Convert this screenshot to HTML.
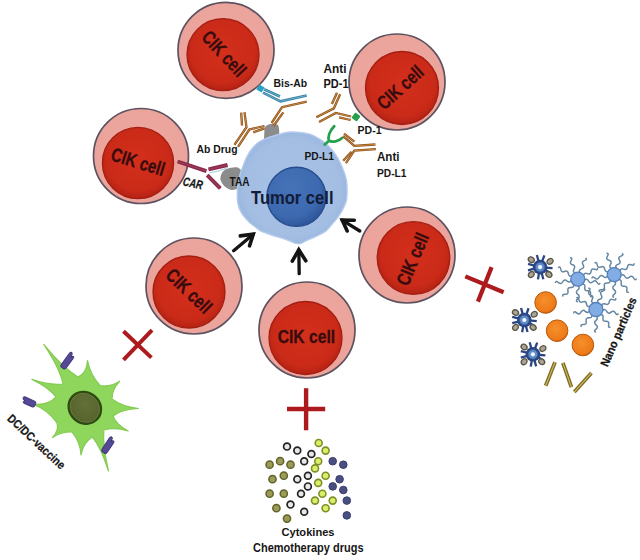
<!DOCTYPE html>
<html><head><meta charset="utf-8"><style>
html,body{margin:0;padding:0;background:#fff;width:640px;height:560px;overflow:hidden}
svg{display:block}
</style></head><body>
<svg width="640" height="560" viewBox="0 0 640 560">
<rect width="640" height="560" fill="#ffffff"/>
<defs>
<radialGradient id="gInner" cx="50%" cy="45%" r="55%">
 <stop offset="0" stop-color="#d3301c"/><stop offset="0.8" stop-color="#ca2a18"/><stop offset="1" stop-color="#b42214"/>
</radialGradient>
<radialGradient id="gOuter" cx="50%" cy="50%" r="50%">
 <stop offset="0" stop-color="#eea89f"/><stop offset="1" stop-color="#eba49b"/>
</radialGradient>
<radialGradient id="gNuc" cx="40%" cy="35%" r="65%">
 <stop offset="0" stop-color="#4672b8"/><stop offset="0.75" stop-color="#3d69b0"/><stop offset="1" stop-color="#30589c"/>
</radialGradient>
<radialGradient id="gTum" cx="50%" cy="50%" r="50%">
 <stop offset="0" stop-color="#a8c2e6"/><stop offset="0.85" stop-color="#a4bee3"/><stop offset="1" stop-color="#9cb8e0"/>
</radialGradient>
<radialGradient id="gDCn" cx="45%" cy="40%" r="60%">
 <stop offset="0" stop-color="#647038"/><stop offset="1" stop-color="#56642c"/>
</radialGradient>
<radialGradient id="gOr" cx="45%" cy="40%" r="60%">
 <stop offset="0" stop-color="#f5902a"/><stop offset="0.85" stop-color="#ee7a18"/><stop offset="1" stop-color="#c8600e"/>
</radialGradient>
</defs><circle cx="226" cy="50.3" r="48" fill="url(#gOuter)" stroke="#5e5260" stroke-width="1.7"/><circle cx="223" cy="54.6" r="36" fill="url(#gInner)" stroke="#a41e12" stroke-width="1.3"/><g transform="translate(223.75,53.45) rotate(47) scale(1,1.2)"><text x="0.3" y="5.5" text-anchor="middle" font-family="Liberation Sans" font-weight="bold" font-size="16" fill="#380c0e" stroke="#380c0e" stroke-width="0.25" textLength="55" lengthAdjust="spacingAndGlyphs">CIK cell</text></g><circle cx="397" cy="82" r="48" fill="url(#gOuter)" stroke="#5e5260" stroke-width="1.7"/><circle cx="402" cy="88" r="36.5" fill="url(#gInner)" stroke="#a41e12" stroke-width="1.3"/><g transform="translate(400.1,87.6) rotate(-42) scale(1,1.2)"><text x="0.3" y="5.5" text-anchor="middle" font-family="Liberation Sans" font-weight="bold" font-size="16" fill="#380c0e" stroke="#380c0e" stroke-width="0.25" textLength="55" lengthAdjust="spacingAndGlyphs">CIK cell</text></g><circle cx="141" cy="156" r="47.5" fill="url(#gOuter)" stroke="#5e5260" stroke-width="1.7"/><circle cx="138" cy="163" r="35.6" fill="url(#gInner)" stroke="#a41e12" stroke-width="1.3"/><g transform="translate(137.75,161.75) rotate(17) scale(1,1.2)"><text x="0.3" y="5.5" text-anchor="middle" font-family="Liberation Sans" font-weight="bold" font-size="16" fill="#380c0e" stroke="#380c0e" stroke-width="0.25" textLength="55" lengthAdjust="spacingAndGlyphs">CIK cell</text></g><circle cx="194" cy="286" r="48" fill="url(#gOuter)" stroke="#5e5260" stroke-width="1.7"/><circle cx="189" cy="292" r="36" fill="url(#gInner)" stroke="#a41e12" stroke-width="1.3"/><g transform="translate(188.75,290.75) rotate(44) scale(1,1.2)"><text x="0.3" y="5.5" text-anchor="middle" font-family="Liberation Sans" font-weight="bold" font-size="16" fill="#380c0e" stroke="#380c0e" stroke-width="0.25" textLength="55" lengthAdjust="spacingAndGlyphs">CIK cell</text></g><circle cx="307" cy="330" r="48" fill="url(#gOuter)" stroke="#5e5260" stroke-width="1.7"/><circle cx="305.5" cy="338" r="36.5" fill="url(#gInner)" stroke="#a41e12" stroke-width="1.3"/><g transform="translate(306.1,336.65) rotate(0) scale(1,1.2)"><text x="0.3" y="5.5" text-anchor="middle" font-family="Liberation Sans" font-weight="bold" font-size="16" fill="#380c0e" stroke="#380c0e" stroke-width="0.25" textLength="57.5" lengthAdjust="spacingAndGlyphs">CIK cell</text></g><circle cx="407" cy="255" r="48" fill="url(#gOuter)" stroke="#5e5260" stroke-width="1.7"/><circle cx="413.5" cy="258" r="36.3" fill="url(#gInner)" stroke="#a41e12" stroke-width="1.3"/><g transform="translate(412.45,259.35) rotate(-67) scale(1,1.2)"><text x="0.3" y="5.5" text-anchor="middle" font-family="Liberation Sans" font-weight="bold" font-size="16" fill="#380c0e" stroke="#380c0e" stroke-width="0.25" textLength="55" lengthAdjust="spacingAndGlyphs">CIK cell</text></g><path d="M264.5,128 C266,124 274,122.5 278,125 C279.5,128 279.5,134 278.5,139 L264,140 Z" fill="#8c8c8c"/><path d="M225,170.5 Q230,167.5 237,168 Q242,170.5 242.5,176 L241,186 Q236,190 230.5,189 Q223,186 221,179 Q221.5,173 225,170.5 Z" fill="#8c8c8c" stroke="#8c8c8c" stroke-width="1.5" stroke-linejoin="round"/><path d="M290,132 C286.4,132.2 284.5,132.9 280.6,134 C276.7,135.1 270.2,136.9 266.5,138.3 C262.8,139.7 260.9,140.6 258.5,142.3 C256.1,144.1 253.9,146.4 252,148.8 C250.1,151.2 248.2,154.3 246.8,157 C245.4,159.7 244.6,162.2 243.5,164.9 C242.4,167.6 241.4,170.0 240.5,173 C239.6,176.0 238.7,179.7 238.2,183 C237.7,186.3 237.3,189.5 237.3,193 C237.3,196.5 237.3,200.7 238,204 C238.7,207.3 239.7,210.0 241.5,213 C243.3,216.0 246.6,219.6 249,222 C251.4,224.4 254.1,226.0 256,227.5 C257.9,229.0 258.8,229.9 260.5,230.8 C262.2,231.7 263.9,232.2 266,233 C268.1,233.8 270.3,234.6 273,235.5 C275.7,236.4 279.2,237.3 282,238.2 C284.8,239.1 287.7,240.1 290,241 C292.3,241.9 294.2,243.0 296,243.4 C297.8,243.8 299.5,243.8 301,243.4 C302.5,243.1 303.4,242.1 305,241.3 C306.6,240.5 308.2,239.9 310.9,238.7 C313.6,237.5 318.4,235.4 321,234 C323.6,232.6 324.7,232.1 326.6,230.4 C328.5,228.7 330.3,226.2 332.2,224 C334.1,221.8 336.1,219.7 337.8,217.4 C339.5,215.1 340.9,212.9 342.4,210 C343.8,207.1 345.7,204.0 346.5,200 C347.3,196.0 347.1,189.6 347,186 C346.9,182.4 346.8,181.3 346,178.2 C345.2,175.1 343.6,170.7 342.2,167.3 C340.8,163.9 339.2,160.7 337.4,157.6 C335.6,154.5 333.3,151.4 331.3,149 C329.3,146.6 327.4,144.8 325.2,143 C323.0,141.2 320.3,139.5 317.9,138.1 C315.5,136.7 313.2,135.4 310.6,134.5 C308.0,133.6 305.5,133.1 302.1,132.7 C298.7,132.3 293.6,131.8 290,132Z" fill="url(#gTum)" stroke="#b4cbec" stroke-width="1.4"/><circle cx="296.4" cy="196.8" r="29.5" fill="url(#gNuc)" stroke="#264c8c" stroke-width="1.4"/><polyline points="244.5,112.2 246.5,127.1 234.4,144.8" fill="none" stroke="#8a4e14" stroke-width="2.3" stroke-linejoin="miter" stroke-linecap="butt"/><polyline points="244.5,112.2 246.5,127.1 234.4,144.8" fill="none" stroke="#dc9c58" stroke-width="0.75" stroke-linejoin="miter" stroke-linecap="butt"/><polyline points="238,146.8 249.3,129.5 264.5,126" fill="none" stroke="#8a4e14" stroke-width="2.3" stroke-linejoin="miter" stroke-linecap="butt"/><polyline points="238,146.8 249.3,129.5 264.5,126" fill="none" stroke="#dc9c58" stroke-width="0.75" stroke-linejoin="miter" stroke-linecap="butt"/><polyline points="241.2,112.6 242,125.5" fill="none" stroke="#8a4e14" stroke-width="2.3" stroke-linejoin="miter" stroke-linecap="butt"/><polyline points="241.2,112.6 242,125.5" fill="none" stroke="#dc9c58" stroke-width="0.75" stroke-linejoin="miter" stroke-linecap="butt"/><polyline points="253.3,132.3 264.5,128.3" fill="none" stroke="#8a4e14" stroke-width="2.3" stroke-linejoin="miter" stroke-linecap="butt"/><polyline points="253.3,132.3 264.5,128.3" fill="none" stroke="#dc9c58" stroke-width="0.75" stroke-linejoin="miter" stroke-linecap="butt"/><polyline points="306.7,101.6 282,107.2 271.6,123" fill="none" stroke="#8a4e14" stroke-width="2.3" stroke-linejoin="miter" stroke-linecap="butt"/><polyline points="306.7,101.6 282,107.2 271.6,123" fill="none" stroke="#dc9c58" stroke-width="0.75" stroke-linejoin="miter" stroke-linecap="butt"/><polyline points="283.3,112.3 273.4,126" fill="none" stroke="#8a4e14" stroke-width="2.3" stroke-linejoin="miter" stroke-linecap="butt"/><polyline points="283.3,112.3 273.4,126" fill="none" stroke="#dc9c58" stroke-width="0.75" stroke-linejoin="miter" stroke-linecap="butt"/><polyline points="263,92.7 280.5,101.3 306.7,95.5" fill="none" stroke="#307c9e" stroke-width="2.6" stroke-linejoin="miter" stroke-linecap="butt"/><polyline points="263,92.7 280.5,101.3 306.7,95.5" fill="none" stroke="#78c0dc" stroke-width="0.8" stroke-linejoin="miter" stroke-linecap="butt"/><polyline points="264,89.3 280,96.5" fill="none" stroke="#307c9e" stroke-width="2.6" stroke-linejoin="miter" stroke-linecap="butt"/><polyline points="264,89.3 280,96.5" fill="none" stroke="#78c0dc" stroke-width="0.8" stroke-linejoin="miter" stroke-linecap="butt"/><rect x="-3" y="-3" width="6" height="6" fill="#2aa0c8" transform="translate(260.5,88.5) rotate(30)"/><polyline points="340.1,94.25 333.9,108.3 316.3,117.3" fill="none" stroke="#8a4e14" stroke-width="2.3" stroke-linejoin="miter" stroke-linecap="butt"/><polyline points="340.1,94.25 333.9,108.3 316.3,117.3" fill="none" stroke="#dc9c58" stroke-width="0.75" stroke-linejoin="miter" stroke-linecap="butt"/><polyline points="319,122 335.8,113 351.1,116.5" fill="none" stroke="#8a4e14" stroke-width="2.3" stroke-linejoin="miter" stroke-linecap="butt"/><polyline points="319,122 335.8,113 351.1,116.5" fill="none" stroke="#dc9c58" stroke-width="0.75" stroke-linejoin="miter" stroke-linecap="butt"/><polyline points="337,92.7 331.9,104" fill="none" stroke="#8a4e14" stroke-width="2.3" stroke-linejoin="miter" stroke-linecap="butt"/><polyline points="337,92.7 331.9,104" fill="none" stroke="#dc9c58" stroke-width="0.75" stroke-linejoin="miter" stroke-linecap="butt"/><polyline points="339,117.3 350.7,120" fill="none" stroke="#8a4e14" stroke-width="2.3" stroke-linejoin="miter" stroke-linecap="butt"/><polyline points="339,117.3 350.7,120" fill="none" stroke="#dc9c58" stroke-width="0.75" stroke-linejoin="miter" stroke-linecap="butt"/><rect x="-3.3" y="-3.3" width="6.6" height="6.6" rx="1.2" fill="#26a04a" transform="translate(356,117) rotate(35)"/><path d="M334.2,126.2 C329.5,131 327.5,137 329,140.8 M342.2,137.9 C339,141.5 332,142.5 329,140.8 L324.8,144.5" fill="none" stroke="#24a04e" stroke-width="2.8" stroke-linecap="round"/><polyline points="343.1,136.1 354.3,145.9 375.4,144.5" fill="none" stroke="#8a4e14" stroke-width="2.3" stroke-linejoin="miter" stroke-linecap="butt"/><polyline points="343.1,136.1 354.3,145.9 375.4,144.5" fill="none" stroke="#dc9c58" stroke-width="0.75" stroke-linejoin="miter" stroke-linecap="butt"/><polyline points="375.9,149.2 354.3,150.6 345.9,163.2" fill="none" stroke="#8a4e14" stroke-width="2.3" stroke-linejoin="miter" stroke-linecap="butt"/><polyline points="375.9,149.2 354.3,150.6 345.9,163.2" fill="none" stroke="#dc9c58" stroke-width="0.75" stroke-linejoin="miter" stroke-linecap="butt"/><polyline points="344,133.6 354.3,141.6" fill="none" stroke="#8a4e14" stroke-width="2.3" stroke-linejoin="miter" stroke-linecap="butt"/><polyline points="344,133.6 354.3,141.6" fill="none" stroke="#dc9c58" stroke-width="0.75" stroke-linejoin="miter" stroke-linecap="butt"/><polyline points="343.2,160.7 351.5,151.8" fill="none" stroke="#8a4e14" stroke-width="2.3" stroke-linejoin="miter" stroke-linecap="butt"/><polyline points="343.2,160.7 351.5,151.8" fill="none" stroke="#dc9c58" stroke-width="0.75" stroke-linejoin="miter" stroke-linecap="butt"/><polyline points="177.6,161.5 206.4,171.1" fill="none" stroke="#8a2a48" stroke-width="3.9" stroke-linejoin="miter" stroke-linecap="butt"/><polyline points="177.6,161.5 206.4,171.1" fill="none" stroke="#9e3a5a" stroke-width="1.2" stroke-linejoin="miter" stroke-linecap="butt"/><polyline points="208.5,169.4 227.5,165" fill="none" stroke="#8a2a48" stroke-width="3.9" stroke-linejoin="miter" stroke-linecap="butt"/><polyline points="208.5,169.4 227.5,165" fill="none" stroke="#9e3a5a" stroke-width="1.2" stroke-linejoin="miter" stroke-linecap="butt"/><polyline points="207.2,175.2 220.3,188.3" fill="none" stroke="#8a2a48" stroke-width="3.9" stroke-linejoin="miter" stroke-linecap="butt"/><polyline points="207.2,175.2 220.3,188.3" fill="none" stroke="#9e3a5a" stroke-width="1.2" stroke-linejoin="miter" stroke-linecap="butt"/><path d="M209.5,172.8 Q218,172 228,167.5" fill="none" stroke="#8ab8d8" stroke-width="0.8"/><line x1="233.6" y1="250.8" x2="253.3" y2="234.2" stroke="#141414" stroke-width="3.3" stroke-linecap="round"/><polyline points="240.3,235.9 253.3,234.2 249.5,245.9" fill="none" stroke="#141414" stroke-width="3.5999999999999996" stroke-linejoin="miter" stroke-linecap="round"/><line x1="299.2" y1="273.6" x2="298.8" y2="249.8" stroke="#141414" stroke-width="3.3" stroke-linecap="round"/><polyline points="292.3,261.1 298.8,249.8 305.8,260.8" fill="none" stroke="#141414" stroke-width="3.5999999999999996" stroke-linejoin="miter" stroke-linecap="round"/><line x1="359.8" y1="231" x2="342.2" y2="220.1" stroke="#141414" stroke-width="3.3" stroke-linecap="round"/><polyline points="354.3,220.2 342.2,220.1 347.2,231" fill="none" stroke="#141414" stroke-width="3.5999999999999996" stroke-linejoin="miter" stroke-linecap="round"/><line x1="123.5" y1="331.3" x2="151.4" y2="357.6" stroke="#ad1a1e" stroke-width="4"/><line x1="152" y1="330.2" x2="123.5" y2="359.8" stroke="#ad1a1e" stroke-width="4"/><line x1="306.1" y1="388.2" x2="306.1" y2="430.3" stroke="#ad1a1e" stroke-width="4.4"/><line x1="287" y1="409" x2="325.2" y2="409" stroke="#ad1a1e" stroke-width="4.4"/><line x1="465.3" y1="276.4" x2="503.6" y2="292.3" stroke="#ad1a1e" stroke-width="4.2"/><line x1="491.6" y1="267.1" x2="477.9" y2="301.6" stroke="#ad1a1e" stroke-width="4.2"/><text x="273.50" y="86.80" font-family="Liberation Sans" font-weight="bold" font-size="11.63" fill="#161616" stroke="#161616" stroke-width="0.0" textLength="33.50" lengthAdjust="spacingAndGlyphs">Bis-Ab</text><text x="323.50" y="73.00" font-family="Liberation Sans" font-weight="bold" font-size="12.35" fill="#161616" stroke="#161616" stroke-width="0.0" textLength="23.00" lengthAdjust="spacingAndGlyphs">Anti</text><text x="323.50" y="88.40" font-family="Liberation Sans" font-weight="bold" font-size="12.21" fill="#161616" stroke="#161616" stroke-width="0.0" textLength="25.00" lengthAdjust="spacingAndGlyphs">PD-1</text><text x="357.50" y="134.20" font-family="Liberation Sans" font-weight="bold" font-size="11.48" fill="#161616" stroke="#161616" stroke-width="0.0" textLength="24.00" lengthAdjust="spacingAndGlyphs">PD-1</text><text x="304.50" y="160.00" font-family="Liberation Sans" font-weight="bold" font-size="11.48" fill="#161616" stroke="#161616" stroke-width="0.0" textLength="29.50" lengthAdjust="spacingAndGlyphs">PD-L1</text><text x="377.00" y="161.40" font-family="Liberation Sans" font-weight="bold" font-size="12.35" fill="#161616" stroke="#161616" stroke-width="0.0" textLength="22.50" lengthAdjust="spacingAndGlyphs">Anti</text><text x="377.00" y="176.80" font-family="Liberation Sans" font-weight="bold" font-size="10.9" fill="#161616" stroke="#161616" stroke-width="0.0" textLength="29.50" lengthAdjust="spacingAndGlyphs">PD-L1</text><text x="196.50" y="152.75" font-family="Liberation Sans" font-weight="bold" font-size="10.54" fill="#161616" stroke="#161616" stroke-width="0.0" textLength="41.00" lengthAdjust="spacingAndGlyphs">Ab Drug</text><text x="229.50" y="186.00" font-family="Liberation Sans" font-weight="bold" font-size="11.92" fill="#161616" stroke="#161616" stroke-width="0.0" textLength="20.00" lengthAdjust="spacingAndGlyphs">TAA</text><text x="251.00" y="203.80" font-family="Liberation Sans" font-weight="bold" font-size="18.6" fill="#131c38" stroke="#131c38" stroke-width="0.1" textLength="82.50" lengthAdjust="spacingAndGlyphs">Tumor cell</text><text x="281.50" y="536.30" font-family="Liberation Sans" font-weight="bold" font-size="10.9" fill="#161616" stroke="#161616" stroke-width="0.0" textLength="53.00" lengthAdjust="spacingAndGlyphs">Cytokines</text><text x="253.00" y="551.60" font-family="Liberation Sans" font-weight="bold" font-size="11.92" fill="#161616" stroke="#161616" stroke-width="0.0" textLength="110.50" lengthAdjust="spacingAndGlyphs">Chemotherapy drugs</text><text x="0" y="0" transform="translate(182.3,185.3) rotate(12)" font-family="Liberation Sans" font-weight="bold" font-style="italic" font-size="12.3" fill="#161616" stroke="#161616" stroke-width="0.3" textLength="20" lengthAdjust="spacingAndGlyphs">CAR</text><path d="M63,384 Q59.8,368.1 43.75,344.4 Q62.1,367.1 78,377 Q86.8,373.2 87.5,360.6 Q90.1,374.5 100,385.5 Q110.0,387.3 119.7,381.25 Q111.8,389.3 112,399 Q121.7,406.6 138.5,408.5 Q121.9,409.1 113,416 Q116.2,424.8 128.2,431 Q114.8,426.9 103.8,430 Q102.7,446.4 108.5,471 Q101.0,447.4 92.5,437 Q83.3,442.2 81,455 Q80.3,441.4 72,432 Q61.3,431.7 52.5,437.5 Q59.1,430.4 57,423 Q48.0,409.8 32.5,404 Q47.9,405.9 56,397 Q49.1,387.5 31.9,379.4 Q50.2,385.6 63,384Z" fill="#8ed65c" stroke="#86cc54" stroke-width="1.2" stroke-linejoin="round"/><circle cx="84" cy="407" r="22" fill="#8ed65c"/><ellipse cx="84.8" cy="407.8" rx="18" ry="16.5" transform="rotate(40 84.8 407.8)" fill="#2f4a12"/><ellipse cx="84.8" cy="407.8" rx="15.3" ry="13.8" transform="rotate(40 84.8 407.8)" fill="url(#gDCn)" stroke="#6e7e40" stroke-width="0.8"/><g transform="translate(62.5,368) rotate(-54) scale(1.119,1)"><path d="M0,-1.4 Q0,-3 2.5,-3.1 L14,-3.1 Q16.3,-3 16,-1.3 Q15.6,0 13.8,-0.1 L12.3,0 L13.6,1.1 Q14.6,3.1 12.4,3.1 L2.5,3 Q0,2.9 0,1.4 Z" fill="#544a98" stroke="#3c3474" stroke-width="0.9"/></g><g transform="translate(35.25,404.9) rotate(-155.7) scale(0.875,-1)"><path d="M0,-1.4 Q0,-3 2.5,-3.1 L14,-3.1 Q16.3,-3 16,-1.3 Q15.6,0 13.8,-0.1 L12.3,0 L13.6,1.1 Q14.6,3.1 12.4,3.1 L2.5,3 Q0,2.9 0,1.4 Z" fill="#544a98" stroke="#3c3474" stroke-width="0.9"/></g><g transform="translate(103.5,452.5) rotate(-56.5) scale(1.087,1)"><path d="M0,-1.4 Q0,-3 2.5,-3.1 L14,-3.1 Q16.3,-3 16,-1.3 Q15.6,0 13.8,-0.1 L12.3,0 L13.6,1.1 Q14.6,3.1 12.4,3.1 L2.5,3 Q0,2.9 0,1.4 Z" fill="#544a98" stroke="#3c3474" stroke-width="0.9"/></g><text x="0" y="0" transform="translate(6.5,419.5) rotate(43)" font-family="Liberation Sans" font-weight="bold" font-size="12" fill="#161616" stroke="#161616" stroke-width="0.25" textLength="74" lengthAdjust="spacingAndGlyphs">DC/DC-vaccine</text><circle cx="287" cy="446.6" r="3.4" fill="#e8e8e8" stroke="#242424" stroke-width="1.7"/><circle cx="297.3" cy="450.6" r="3.4" fill="#e8e8e8" stroke="#242424" stroke-width="1.7"/><circle cx="311.4" cy="454" r="3.4" fill="#e8e8e8" stroke="#242424" stroke-width="1.7"/><circle cx="304.2" cy="461.2" r="3.4" fill="#e8e8e8" stroke="#242424" stroke-width="1.7"/><circle cx="307.9" cy="475.7" r="3.4" fill="#e8e8e8" stroke="#242424" stroke-width="1.7"/><circle cx="297.3" cy="479.2" r="3.4" fill="#e8e8e8" stroke="#242424" stroke-width="1.7"/><circle cx="307.9" cy="486.4" r="3.4" fill="#e8e8e8" stroke="#242424" stroke-width="1.7"/><circle cx="301" cy="493.7" r="3.4" fill="#e8e8e8" stroke="#242424" stroke-width="1.7"/><circle cx="290.5" cy="504.6" r="3.4" fill="#e8e8e8" stroke="#242424" stroke-width="1.7"/><circle cx="304.2" cy="511.7" r="3.4" fill="#e8e8e8" stroke="#242424" stroke-width="1.7"/><circle cx="318.7" cy="443" r="3.5" fill="#d6f06a" stroke="#7e9024" stroke-width="1.6"/><circle cx="325.6" cy="450.6" r="3.5" fill="#d6f06a" stroke="#7e9024" stroke-width="1.6"/><circle cx="318.2" cy="461.2" r="3.5" fill="#d6f06a" stroke="#7e9024" stroke-width="1.6"/><circle cx="315" cy="468.4" r="3.5" fill="#d6f06a" stroke="#7e9024" stroke-width="1.6"/><circle cx="325.6" cy="475.7" r="3.5" fill="#d6f06a" stroke="#7e9024" stroke-width="1.6"/><circle cx="318.2" cy="482.9" r="3.5" fill="#d6f06a" stroke="#7e9024" stroke-width="1.6"/><circle cx="322.4" cy="493.7" r="3.5" fill="#d6f06a" stroke="#7e9024" stroke-width="1.6"/><circle cx="315" cy="500.6" r="3.5" fill="#d6f06a" stroke="#7e9024" stroke-width="1.6"/><circle cx="332.7" cy="500.6" r="3.5" fill="#d6f06a" stroke="#7e9024" stroke-width="1.6"/><circle cx="325.6" cy="508.2" r="3.5" fill="#d6f06a" stroke="#7e9024" stroke-width="1.6"/><circle cx="269.6" cy="464.7" r="3.6" fill="#9c9a58" stroke="#606228" stroke-width="1.5"/><circle cx="280.1" cy="461.2" r="3.6" fill="#9c9a58" stroke="#606228" stroke-width="1.5"/><circle cx="290.5" cy="464.7" r="3.6" fill="#9c9a58" stroke="#606228" stroke-width="1.5"/><circle cx="272.5" cy="479.2" r="3.6" fill="#9c9a58" stroke="#606228" stroke-width="1.5"/><circle cx="283.8" cy="475.7" r="3.6" fill="#9c9a58" stroke="#606228" stroke-width="1.5"/><circle cx="269.6" cy="493.7" r="3.6" fill="#9c9a58" stroke="#606228" stroke-width="1.5"/><circle cx="283.8" cy="493.7" r="3.6" fill="#9c9a58" stroke="#606228" stroke-width="1.5"/><circle cx="276.4" cy="508.2" r="3.6" fill="#9c9a58" stroke="#606228" stroke-width="1.5"/><circle cx="287" cy="518.6" r="3.6" fill="#9c9a58" stroke="#606228" stroke-width="1.5"/><circle cx="332.7" cy="461.2" r="3.8" fill="#4a4f82" stroke="#3a3e6c" stroke-width="1"/><circle cx="343.3" cy="464.7" r="3.8" fill="#4a4f82" stroke="#3a3e6c" stroke-width="1"/><circle cx="339.6" cy="479.2" r="3.8" fill="#4a4f82" stroke="#3a3e6c" stroke-width="1"/><circle cx="332.7" cy="486.4" r="3.8" fill="#4a4f82" stroke="#3a3e6c" stroke-width="1"/><circle cx="343.3" cy="490" r="3.8" fill="#4a4f82" stroke="#3a3e6c" stroke-width="1"/><circle cx="346.8" cy="500.6" r="3.8" fill="#4a4f82" stroke="#3a3e6c" stroke-width="1"/><circle cx="346.8" cy="515.4" r="3.8" fill="#4a4f82" stroke="#3a3e6c" stroke-width="1"/><g transform="translate(540.1,267.1)"><line transform="rotate(-105)" x1="5" y1="0" x2="12.5" y2="0" stroke="#2a4682" stroke-width="2.3"/><line transform="rotate(-70)" x1="5" y1="0" x2="12.5" y2="0" stroke="#2a4682" stroke-width="2.3"/><line transform="rotate(5)" x1="5" y1="0" x2="12.5" y2="0" stroke="#2a4682" stroke-width="2.3"/><line transform="rotate(30)" x1="5" y1="0" x2="12.5" y2="0" stroke="#2a4682" stroke-width="2.3"/><line transform="rotate(100)" x1="5" y1="0" x2="12.5" y2="0" stroke="#2a4682" stroke-width="2.3"/><line transform="rotate(75)" x1="5" y1="0" x2="12.5" y2="0" stroke="#2a4682" stroke-width="2.3"/><line transform="rotate(165)" x1="5" y1="0" x2="12.5" y2="0" stroke="#2a4682" stroke-width="2.3"/><line transform="rotate(195)" x1="5" y1="0" x2="12.5" y2="0" stroke="#2a4682" stroke-width="2.3"/><ellipse transform="rotate(-140) translate(11.5,0)" rx="3.2" ry="2.6" fill="#aaa496" stroke="#5a5444" stroke-width="1.3"/><ellipse transform="rotate(-30) translate(11.5,0)" rx="3.2" ry="2.6" fill="#aaa496" stroke="#5a5444" stroke-width="1.3"/><ellipse transform="rotate(40) translate(11.5,0)" rx="3.2" ry="2.6" fill="#aaa496" stroke="#5a5444" stroke-width="1.3"/><ellipse transform="rotate(140) translate(11.5,0)" rx="3.2" ry="2.6" fill="#aaa496" stroke="#5a5444" stroke-width="1.3"/><circle r="7.3" fill="#2a4682"/><circle r="4.8" fill="#5f8ccc" stroke="#3a5c98" stroke-width="0.7"/><circle r="2.1" fill="#f4fbff"/></g><g transform="translate(524.3,320)"><line transform="rotate(-105)" x1="5" y1="0" x2="12.5" y2="0" stroke="#2a4682" stroke-width="2.3"/><line transform="rotate(-70)" x1="5" y1="0" x2="12.5" y2="0" stroke="#2a4682" stroke-width="2.3"/><line transform="rotate(5)" x1="5" y1="0" x2="12.5" y2="0" stroke="#2a4682" stroke-width="2.3"/><line transform="rotate(30)" x1="5" y1="0" x2="12.5" y2="0" stroke="#2a4682" stroke-width="2.3"/><line transform="rotate(100)" x1="5" y1="0" x2="12.5" y2="0" stroke="#2a4682" stroke-width="2.3"/><line transform="rotate(75)" x1="5" y1="0" x2="12.5" y2="0" stroke="#2a4682" stroke-width="2.3"/><line transform="rotate(165)" x1="5" y1="0" x2="12.5" y2="0" stroke="#2a4682" stroke-width="2.3"/><line transform="rotate(195)" x1="5" y1="0" x2="12.5" y2="0" stroke="#2a4682" stroke-width="2.3"/><ellipse transform="rotate(-140) translate(11.5,0)" rx="3.2" ry="2.6" fill="#aaa496" stroke="#5a5444" stroke-width="1.3"/><ellipse transform="rotate(-30) translate(11.5,0)" rx="3.2" ry="2.6" fill="#aaa496" stroke="#5a5444" stroke-width="1.3"/><ellipse transform="rotate(40) translate(11.5,0)" rx="3.2" ry="2.6" fill="#aaa496" stroke="#5a5444" stroke-width="1.3"/><ellipse transform="rotate(140) translate(11.5,0)" rx="3.2" ry="2.6" fill="#aaa496" stroke="#5a5444" stroke-width="1.3"/><circle r="7.3" fill="#2a4682"/><circle r="4.8" fill="#5f8ccc" stroke="#3a5c98" stroke-width="0.7"/><circle r="2.1" fill="#f4fbff"/></g><g transform="translate(532.9,354.3)"><line transform="rotate(-105)" x1="5" y1="0" x2="12.5" y2="0" stroke="#2a4682" stroke-width="2.3"/><line transform="rotate(-70)" x1="5" y1="0" x2="12.5" y2="0" stroke="#2a4682" stroke-width="2.3"/><line transform="rotate(5)" x1="5" y1="0" x2="12.5" y2="0" stroke="#2a4682" stroke-width="2.3"/><line transform="rotate(30)" x1="5" y1="0" x2="12.5" y2="0" stroke="#2a4682" stroke-width="2.3"/><line transform="rotate(100)" x1="5" y1="0" x2="12.5" y2="0" stroke="#2a4682" stroke-width="2.3"/><line transform="rotate(75)" x1="5" y1="0" x2="12.5" y2="0" stroke="#2a4682" stroke-width="2.3"/><line transform="rotate(165)" x1="5" y1="0" x2="12.5" y2="0" stroke="#2a4682" stroke-width="2.3"/><line transform="rotate(195)" x1="5" y1="0" x2="12.5" y2="0" stroke="#2a4682" stroke-width="2.3"/><ellipse transform="rotate(-140) translate(11.5,0)" rx="3.2" ry="2.6" fill="#aaa496" stroke="#5a5444" stroke-width="1.3"/><ellipse transform="rotate(-30) translate(11.5,0)" rx="3.2" ry="2.6" fill="#aaa496" stroke="#5a5444" stroke-width="1.3"/><ellipse transform="rotate(40) translate(11.5,0)" rx="3.2" ry="2.6" fill="#aaa496" stroke="#5a5444" stroke-width="1.3"/><ellipse transform="rotate(140) translate(11.5,0)" rx="3.2" ry="2.6" fill="#aaa496" stroke="#5a5444" stroke-width="1.3"/><circle r="7.3" fill="#2a4682"/><circle r="4.8" fill="#5f8ccc" stroke="#3a5c98" stroke-width="0.7"/><circle r="2.1" fill="#f4fbff"/></g><g transform="translate(577.8,279.1)"><path transform="rotate(10)" d="M6.5,0 q2.2,-2.8 4.4,0 t4.4,0 t4.4,0 t3,0" fill="none" stroke="#6587a2" stroke-width="1.5"/><path transform="rotate(50)" d="M6.5,0 q2.2,-2.8 4.4,0 t4.4,0 t4.4,0 t3,0" fill="none" stroke="#6587a2" stroke-width="1.5"/><path transform="rotate(90)" d="M6.5,0 q2.2,-2.8 4.4,0 t4.4,0 t4.4,0 t3,0" fill="none" stroke="#6587a2" stroke-width="1.5"/><path transform="rotate(130)" d="M6.5,0 q2.2,-2.8 4.4,0 t4.4,0 t4.4,0 t3,0" fill="none" stroke="#6587a2" stroke-width="1.5"/><path transform="rotate(170)" d="M6.5,0 q2.2,-2.8 4.4,0 t4.4,0 t4.4,0 t3,0" fill="none" stroke="#6587a2" stroke-width="1.5"/><path transform="rotate(210)" d="M6.5,0 q2.2,-2.8 4.4,0 t4.4,0 t4.4,0 t3,0" fill="none" stroke="#6587a2" stroke-width="1.5"/><path transform="rotate(250)" d="M6.5,0 q2.2,-2.8 4.4,0 t4.4,0 t4.4,0 t3,0" fill="none" stroke="#6587a2" stroke-width="1.5"/><path transform="rotate(290)" d="M6.5,0 q2.2,-2.8 4.4,0 t4.4,0 t4.4,0 t3,0" fill="none" stroke="#6587a2" stroke-width="1.5"/><path transform="rotate(330)" d="M6.5,0 q2.2,-2.8 4.4,0 t4.4,0 t4.4,0 t3,0" fill="none" stroke="#6587a2" stroke-width="1.5"/><circle r="7" fill="#82ace4" stroke="#5580bc" stroke-width="1.3"/></g><g transform="translate(614.2,274.6)"><path transform="rotate(10)" d="M6.5,0 q2.2,-2.8 4.4,0 t4.4,0 t4.4,0 t3,0" fill="none" stroke="#6587a2" stroke-width="1.5"/><path transform="rotate(50)" d="M6.5,0 q2.2,-2.8 4.4,0 t4.4,0 t4.4,0 t3,0" fill="none" stroke="#6587a2" stroke-width="1.5"/><path transform="rotate(90)" d="M6.5,0 q2.2,-2.8 4.4,0 t4.4,0 t4.4,0 t3,0" fill="none" stroke="#6587a2" stroke-width="1.5"/><path transform="rotate(130)" d="M6.5,0 q2.2,-2.8 4.4,0 t4.4,0 t4.4,0 t3,0" fill="none" stroke="#6587a2" stroke-width="1.5"/><path transform="rotate(170)" d="M6.5,0 q2.2,-2.8 4.4,0 t4.4,0 t4.4,0 t3,0" fill="none" stroke="#6587a2" stroke-width="1.5"/><path transform="rotate(210)" d="M6.5,0 q2.2,-2.8 4.4,0 t4.4,0 t4.4,0 t3,0" fill="none" stroke="#6587a2" stroke-width="1.5"/><path transform="rotate(250)" d="M6.5,0 q2.2,-2.8 4.4,0 t4.4,0 t4.4,0 t3,0" fill="none" stroke="#6587a2" stroke-width="1.5"/><path transform="rotate(290)" d="M6.5,0 q2.2,-2.8 4.4,0 t4.4,0 t4.4,0 t3,0" fill="none" stroke="#6587a2" stroke-width="1.5"/><path transform="rotate(330)" d="M6.5,0 q2.2,-2.8 4.4,0 t4.4,0 t4.4,0 t3,0" fill="none" stroke="#6587a2" stroke-width="1.5"/><circle r="7" fill="#82ace4" stroke="#5580bc" stroke-width="1.3"/></g><g transform="translate(596,309.5)"><path transform="rotate(10)" d="M6.5,0 q2.2,-2.8 4.4,0 t4.4,0 t4.4,0 t3,0" fill="none" stroke="#6587a2" stroke-width="1.5"/><path transform="rotate(50)" d="M6.5,0 q2.2,-2.8 4.4,0 t4.4,0 t4.4,0 t3,0" fill="none" stroke="#6587a2" stroke-width="1.5"/><path transform="rotate(90)" d="M6.5,0 q2.2,-2.8 4.4,0 t4.4,0 t4.4,0 t3,0" fill="none" stroke="#6587a2" stroke-width="1.5"/><path transform="rotate(130)" d="M6.5,0 q2.2,-2.8 4.4,0 t4.4,0 t4.4,0 t3,0" fill="none" stroke="#6587a2" stroke-width="1.5"/><path transform="rotate(170)" d="M6.5,0 q2.2,-2.8 4.4,0 t4.4,0 t4.4,0 t3,0" fill="none" stroke="#6587a2" stroke-width="1.5"/><path transform="rotate(210)" d="M6.5,0 q2.2,-2.8 4.4,0 t4.4,0 t4.4,0 t3,0" fill="none" stroke="#6587a2" stroke-width="1.5"/><path transform="rotate(250)" d="M6.5,0 q2.2,-2.8 4.4,0 t4.4,0 t4.4,0 t3,0" fill="none" stroke="#6587a2" stroke-width="1.5"/><path transform="rotate(290)" d="M6.5,0 q2.2,-2.8 4.4,0 t4.4,0 t4.4,0 t3,0" fill="none" stroke="#6587a2" stroke-width="1.5"/><path transform="rotate(330)" d="M6.5,0 q2.2,-2.8 4.4,0 t4.4,0 t4.4,0 t3,0" fill="none" stroke="#6587a2" stroke-width="1.5"/><circle r="7" fill="#82ace4" stroke="#5580bc" stroke-width="1.3"/></g><circle cx="545.6" cy="302.5" r="10.8" fill="url(#gOr)" stroke="#b85a10" stroke-width="1"/><circle cx="557.1" cy="330.7" r="10.8" fill="url(#gOr)" stroke="#b85a10" stroke-width="1"/><circle cx="582.9" cy="345" r="10.8" fill="url(#gOr)" stroke="#b85a10" stroke-width="1"/><line x1="555" y1="362.1" x2="545.7" y2="385.7" stroke="#7e6c22" stroke-width="3.8" stroke-linecap="butt"/><line x1="555" y1="362.1" x2="545.7" y2="385.7" stroke="#cdbd6a" stroke-width="1.1" stroke-linecap="butt"/><line x1="562.9" y1="362.9" x2="571.4" y2="387.1" stroke="#7e6c22" stroke-width="3.8" stroke-linecap="butt"/><line x1="562.9" y1="362.9" x2="571.4" y2="387.1" stroke="#cdbd6a" stroke-width="1.1" stroke-linecap="butt"/><line x1="591.4" y1="372.9" x2="574.3" y2="392.1" stroke="#7e6c22" stroke-width="3.8" stroke-linecap="butt"/><line x1="591.4" y1="372.9" x2="574.3" y2="392.1" stroke="#cdbd6a" stroke-width="1.1" stroke-linecap="butt"/><text x="0" y="0" transform="translate(607.5,367.5) rotate(-66.5)" font-family="Liberation Sans" font-weight="bold" font-size="11.8" fill="#161616" stroke="#161616" stroke-width="0.25" textLength="74" lengthAdjust="spacingAndGlyphs">Nano particles</text>
</svg></body></html>
